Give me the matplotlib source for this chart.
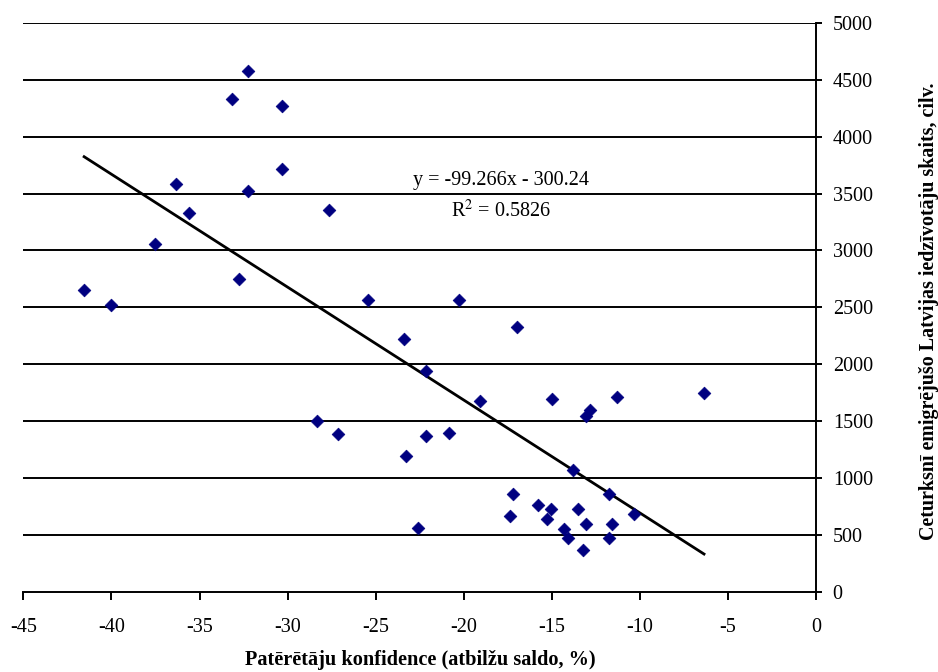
import matplotlib
matplotlib.use("Agg")
import matplotlib.pyplot as plt
import numpy as np

# Consumer confidence (balance of answers, %) vs quarterly emigrants
confidence = [-32.27, -33.14, -30.34, -30.34, -36.33, -32.27, -35.57, -27.63,
              -37.5, -32.77, -41.55, -40.0, -25.42, -20.28, -16.99,
              -23.37, -22.12, -28.31, -27.14, -22.12, -20.85, -23.3, -22.61,
              -19.05, -15.0, -11.29, -12.84, -13.05, -6.36, -13.81, -17.2,
              -11.76, -15.76, -15.07, -13.52, -17.4, -10.34, -15.27, -13.05,
              -11.57, -14.3, -14.11, -11.76, -13.24]
emigrants = [4580, 4329, 4268, 3716, 3582, 3520, 3327, 3356,
             3057, 2746, 2655, 2521, 2565, 2565, 2325,
             2222, 1940, 1503, 1384, 1369, 1398, 1190, 563,
             1679, 1697, 1712, 1597, 1548, 1744, 1070, 862,
             862, 759, 727, 727, 666, 680, 636, 595,
             592, 551, 472, 472, 369]

slope = -99.266
intercept = -300.24
r_squared = 0.5826

x_ticks = [-45, -40, -35, -30, -25, -20, -15, -10, -5, 0]
y_ticks = [0, 500, 1000, 1500, 2000, 2500, 3000, 3500, 4000, 4500, 5000]

x_title = "Patērētāju konfidence (atbilžu saldo, %)"
y_title = "Ceturksnī emigrējušo Latvijas iedzīvotāju skaits, cilv."

plt.rcParams['font.family'] = ['Liberation Serif', 'DejaVu Serif']
plt.rcParams['mathtext.fontset'] = 'stix'

fig = plt.figure(figsize=(9.38, 6.72), dpi=100)
ax = fig.add_axes([0.0249, 0.1195, 0.8451, 0.8463])

ax.set_xlim(-45, 0)
ax.set_ylim(0, 5000)

for yv in y_ticks[1:]:
    ax.axhline(yv, color='black', lw=1.4, zorder=1)

ax.scatter(confidence, emigrants, marker='D', s=42, color='#000080',
           edgecolors='#000080', linewidths=0.5, zorder=3)

xs = np.array([min(confidence), max(confidence)])
ax.plot(xs, slope * xs + intercept, color='black', lw=2, zorder=2)

ax.text(-17.9, 3615, f"y = {slope}x - {abs(intercept):.2f}", ha='center',
        va='center', fontsize=14.5)
ax.text(-17.9, 3345, f"R$^2$ = {r_squared}", ha='center', va='center',
        fontsize=14.5)

ax.spines['left'].set_visible(False)
ax.spines['top'].set_visible(False)
ax.spines['right'].set_linewidth(1.4)
ax.spines['bottom'].set_linewidth(1.4)

ax.yaxis.tick_right()
ax.set_xticks(x_ticks)
ax.set_yticks(y_ticks)
ax.set_xticklabels([str(v) for v in x_ticks])
ax.set_yticklabels([str(v) for v in y_ticks])
ax.tick_params(axis='x', direction='out', length=6, width=1.4, labelsize=14.5, pad=13)
ax.tick_params(axis='y', direction='out', length=4, width=1.4, labelsize=14.5, pad=8)

fig.text(420 / 938, 1 - 660 / 672, x_title, ha='center', va='center',
         fontsize=14.6, fontweight='bold')
fig.text(929 / 938, 1 - 311 / 672, y_title, ha='center', va='center',
         rotation=90, fontsize=14.4, fontweight='bold')

fig.savefig("out.png", dpi=100)
